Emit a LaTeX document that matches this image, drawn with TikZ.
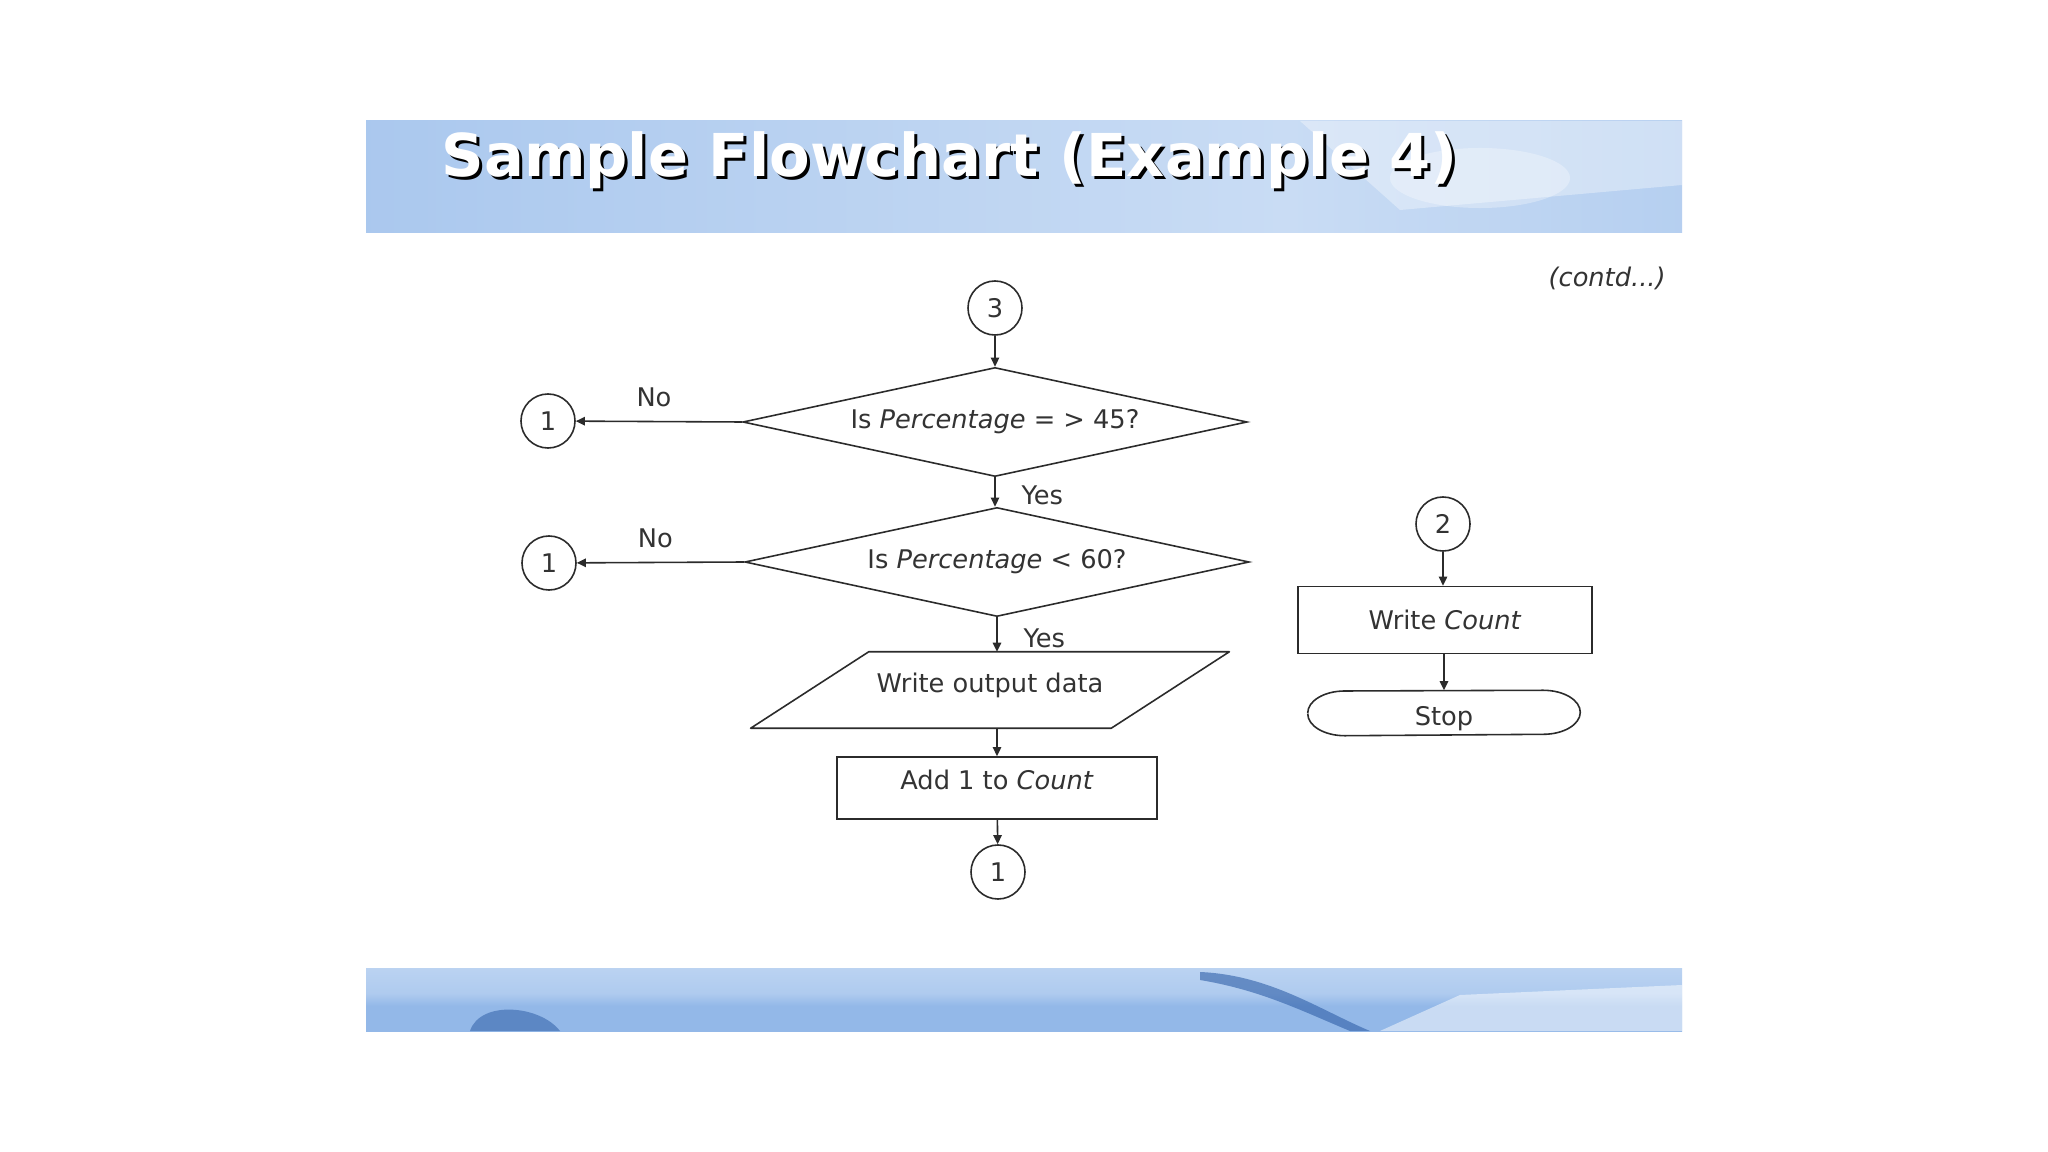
\documentclass[tikz,border=0pt]{standalone}
\usepackage{fontspec}
\setmainfont{DejaVu Sans}
\usetikzlibrary{arrows.meta,positioning,shapes.geometric,shapes.misc,calc}
\definecolor{inkline}{HTML}{2B2B2B}
\definecolor{inktext}{HTML}{333333}
\definecolor{bandlo}{HTML}{93B8E8}
\definecolor{bandmid}{HTML}{AFCBEF}
\definecolor{bandhi}{HTML}{C9DCF4}
\definecolor{banddeep}{HTML}{2F5FA8}
\pgfdeclarehorizontalshading{topband}{100bp}{color(0bp)=(bandlo); color(30bp)=(bandmid);
  color(60bp)=(bandhi); color(80bp)=(bandmid); color(100bp)=(bandhi)}
\pgfdeclareverticalshading{lowband}{100bp}{color(0bp)=(bandlo); color(45bp)=(bandlo);
  color(55bp)=(bandmid); color(100bp)=(bandhi)}
\newcommand\chartfont{\fontsize{7.3}{9}\selectfont}
\newcommand\titlefont{\fontsize{16.8}{20}\selectfont\bfseries}
\tikzset{
  conn/.style    ={circle,draw=inkline,line width=0.45pt,minimum size=0.54cm,
                   inner sep=0pt,text=inktext,font=\chartfont},
  decision/.style={diamond,draw=inkline,line width=0.45pt,aspect=4.6,inner sep=0pt,
                   minimum width=5.04cm,minimum height=1.09cm,text=inktext,font=\chartfont},
  process/.style ={rectangle,draw=inkline,line width=0.45pt,inner sep=0pt,
                   text=inktext,font=\chartfont},
  iobox/.style   ={rectangle,inner sep=0pt,minimum width=3.59cm,minimum height=0.75cm,
                   text=inktext,font=\chartfont},
  raised/.style  ={text height=5.5pt,text depth=#1},
  outline/.style ={draw=inkline,line width=0.45pt,line join=round},
  flow/.style    ={-{Triangle[length=2.6pt,width=2.4pt]},line width=0.45pt,draw=inkline},
  lbl/.style     ={text=inktext,font=\chartfont}
}
\begin{document}
\begin{tikzpicture}[x=0.01cm,y=-0.01cm]
  \useasboundingbox[fill=white] (0,0) rectangle (2048,1152);
  % banners
  \shade[shading=topband] (366,121) rectangle (1682,233);
  \begin{scope}
    \clip (366,121) rectangle (1682,233);
    \fill[white,opacity=0.35] (1300,121) -- (1682,121) -- (1682,185) -- (1400,210) -- cycle;
    \fill[white,opacity=0.3] (1480,178) ellipse[x radius=0.9cm,y radius=0.3cm];
  \end{scope}
  \shade[shading=lowband] (366,968) rectangle (1682,1031);
  \begin{scope}
    \clip (366,968) rectangle (1682,1031);
    \fill[banddeep,opacity=0.55] (470,1031) .. controls (480,1000) and (540,1005) .. (560,1031) -- cycle;
    \fill[banddeep,opacity=0.6] (1200,972) .. controls (1270,975) and (1320,1010) .. (1370,1031)
      -- (1350,1031) .. controls (1300,1010) and (1260,990) .. (1200,980) -- cycle;
    \fill[white,opacity=0.5] (1380,1031) -- (1460,995) -- (1682,985) -- (1682,1031) -- cycle;
  \end{scope}
  % title
  \node[anchor=base west,inner sep=0pt,font=\titlefont,text=black] at (444,180) {Sample Flowchart (Example 4)};
  \node[anchor=base west,inner sep=0pt,font=\titlefont,text=white] at (441,177) {Sample Flowchart (Example 4)};
  \node[lbl,anchor=east] at (1678,278) {\itshape(contd...)};
  % main column
  \node[conn] (c3) at (995,308) {3};
  \node[decision] (d1) at (995,422) {Is \textit{Percentage} = > 45?};
  \node[decision] (d2) at (997,562) {Is \textit{Percentage} < 60?};
  \node[iobox,raised=4pt] (out) at (990,690) {Write output data};
  \draw[outline] ([xshift=0.59cm]out.north west) -- ([xshift=0.59cm]out.north east)
    -- ([xshift=-0.59cm]out.south east) -- ([xshift=-0.59cm]out.south west) -- cycle;
  \node[process,raised=4.5pt,minimum width=3.2cm,minimum height=0.62cm] (add) at (997,788) {Add 1 to \textit{Count}};
  \node[conn] (c1c) at (998,872) {1};
  \node[conn] (c1a) at (548,421) {1};
  \node[conn] (c1b) at (549,563) {1};
  % right column
  \node[conn] (c2) at (1443,524) {2};
  \node[process,minimum width=2.94cm,minimum height=0.67cm] (wc) at (1445,620) {Write \textit{Count}};
  \node[iobox,text height=7pt,text depth=0pt,minimum width=2.71cm,minimum height=0.44cm] (stop) at (1444,713) {Stop};
  \draw[outline] (stop.west) arc[start angle=180,end angle=90,x radius=0.37cm,y radius=0.22cm]
    -- ([xshift=-0.37cm]stop.north east)
    arc[start angle=90,end angle=-90,x radius=0.37cm,y radius=0.22cm]
    -- ([xshift=0.37cm]stop.south west)
    arc[start angle=270,end angle=180,x radius=0.37cm,y radius=0.22cm];
  % connectors
  \draw[flow] (c3) -- (d1.north);
  \draw[flow] (d1.west) -- node[lbl,above=0.5pt,pos=0.53] {No} (c1a);
  \draw[flow] (d1.south) -- node[lbl,right=4pt,yshift=-1pt] {Yes} (d2.north -| d1.south);
  \draw[flow] (d2.west) -- node[lbl,above=0.5pt,pos=0.53] {No} (c1b);
  \draw[flow] (d2.south) -- node[lbl,right=4pt,yshift=-1pt] {Yes} (out.north -| d2.south);
  \draw[flow] (out.south -| add.north) -- (add.north);
  \draw[flow] (add) -- (c1c);
  \draw[flow] (c2) -- (c2 |- wc.north);
  \draw[flow] (wc.south -| stop.north) -- (stop.north);
\end{tikzpicture}
\end{document}
